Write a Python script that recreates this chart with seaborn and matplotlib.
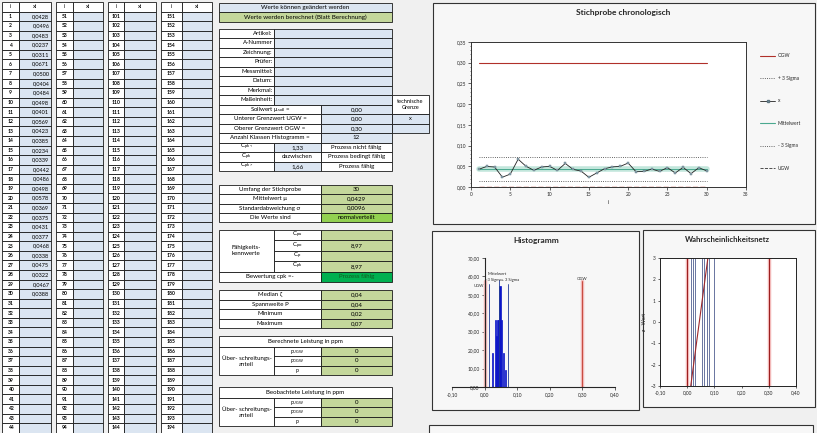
import numpy as np
import pandas as pd
import matplotlib
matplotlib.use("Agg")
import matplotlib.pyplot as plt
from matplotlib.patches import Rectangle
from matplotlib.lines import Line2D
from matplotlib.ticker import MultipleLocator
import seaborn as sns

# ---- data read from the sheet ----
xi = [0.0428, 0.0496, 0.0483, 0.0237, 0.0311, 0.0671, 0.0500, 0.0404, 0.0484, 0.0498,
      0.0401, 0.0569, 0.0423, 0.0385, 0.0234, 0.0339, 0.0442, 0.0486, 0.0498, 0.0578,
      0.0369, 0.0375, 0.0431, 0.0377, 0.0468, 0.0338, 0.0475, 0.0322, 0.0467, 0.0388]
i_idx = list(range(1, len(xi) + 1))

ugw = 0.00
ogw = 0.30
mittelwert = 0.0429
std_dev = 0.0096
minus_3s = 0.0141
plus_3s = 0.0717
n_classes = 12

chrono_yticks = [0.00, 0.05, 0.10, 0.15, 0.20, 0.25, 0.30, 0.35]
chrono_xticks = [0, 5, 10, 15, 20, 25, 30, 35]
hist_yticks = [0, 10, 20, 30, 40, 50, 60, 70]
x_ticks = [-0.10, 0.00, 0.10, 0.20, 0.30, 0.40]
z_ticks = [-3, -2, -1, 0, 1, 2, 3]

prob_blue_x = [0.0141, 0.0195, 0.0293, 0.0540, 0.0620, 0.0717, 0.0810, 0.0970]
prob_fit_x = [0.0130, 0.0760]
prob_fit_z = [-3, 3]

# ---- figure ----
sns.set_style("ticks")
plt.rcParams['font.family'] = ['Lato', 'DejaVu Sans']
plt.rcParams['mathtext.default'] = 'regular'

W, H = 817, 433
fig = plt.figure(figsize=(W / 100, H / 100), dpi=100, facecolor='#f0f0f0')

bg = fig.add_axes([0, 0, 1, 1])
bg.set_xlim(0, W)
bg.set_ylim(H, 0)
bg.axis('off')

BLUE = '#dbe5f1'
GREEN = '#c4d79b'


def de(v, d=2):
    return f"{v:.{d}f}".replace('.', ',')


def cell(x0, y0, x1, y1, fc='white', text='', ha='center', fs=4.4, bold=False, color='black', lw=0.6):
    bg.add_patch(Rectangle((x0, y0), x1 - x0, y1 - y0, facecolor=fc, edgecolor='#1a1a1a', lw=lw))
    if text:
        if ha == 'center':
            tx = (x0 + x1) / 2
        elif ha == 'right':
            tx = x1 - 1.5
        else:
            tx = x0 + 1.5
        bg.text(tx, (y0 + y1) / 2, text, ha=ha, va='center', fontsize=fs,
                fontweight='bold' if bold else 'normal', color=color)


def px_axes(x0, y0, x1, y1):
    return fig.add_axes([x0 / W, 1 - y1 / H, (x1 - x0) / W, (y1 - y0) / H])


# left value table
groups = [(2, 19, 51), (56, 73, 103), (108, 124, 156), (161, 182, 212)]
top, row_h = 2, 9.57
for g, (a, b, c) in enumerate(groups):
    cell(a, top, b, top + row_h, 'white', 'i', fs=4)
    cell(b, top, c, top + row_h, 'white', 'xi', fs=4)
    for r in range(1, 45):
        y0 = top + r * row_h
        n = g * 50 + r
        cell(a, y0, b, y0 + row_h, 'white', str(n), fs=3.6, bold=True)
        val = de(xi[n - 1], 4) if n <= len(xi) else ''
        cell(b, y0, c, y0 + row_h, BLUE, val, ha='right', fs=4.1)

# middle form
L, M1, M2, R = 219, 274, 321, 392
cell(L, 3, R, 12, BLUE, 'Werte können geändert werden', fs=4.5)
cell(L, 12, R, 21.5, GREEN, 'Werte werden berechnet (Blatt Berechnung)', fs=4.5)

ftop, fh = 28.5, 9.5
labels = ['Artikel:', 'A-Nummer', 'Zeichnung:', 'Prüfer:', 'Messmittel:', 'Datum:', 'Merkmal:', 'Maßeinheit:']
for k, lab in enumerate(labels):
    y0 = ftop + k * fh
    cell(L, y0, M1, y0 + fh, 'white', lab, ha='right')
    cell(M1, y0, R, y0 + fh, BLUE)
rows2 = [('Sollwert μ$_{soll}$ =', de(0.0)), ('Unterer Grenzwert UGW =', de(ugw)),
         ('Oberer Grenzwert OGW =', de(ogw)), ('Anzahl Klassen Histogramm =', str(n_classes))]
for k, (lab, val) in enumerate(rows2):
    y0 = ftop + (8 + k) * fh
    cell(L, y0, M2, y0 + fh, 'white', lab)
    cell(M2, y0, R, y0 + fh, BLUE, val)
cell(R, ftop + 7 * fh, 429, ftop + 9 * fh, 'white', 'technische\nGrenze', fs=4.1)
cell(R, ftop + 9 * fh, 429, ftop + 10 * fh, BLUE, 'x', fs=4.1)
cell(R, ftop + 10 * fh, 429, ftop + 11 * fh, BLUE)
rows3 = [('C$_{pk<}$', '1,33', BLUE, 'Prozess nicht fähig'),
         ('C$_{pk}$', 'dazwischen', 'white', 'Prozess bedingt fähig'),
         ('C$_{pk>}$', '1,66', BLUE, 'Prozess fähig')]
for k, (lab, v, fc, txt) in enumerate(rows3):
    y0 = ftop + (12 + k) * fh
    cell(L, y0, M1, y0 + fh, 'white', lab)
    cell(M1, y0, M2, y0 + fh, fc, v)
    cell(M2, y0, R, y0 + fh, 'white', txt)

# statistics block
stats = [('Umfang der Stichprobe', str(len(xi)), GREEN), ('Mittelwert μ', de(mittelwert, 4), GREEN),
         ('Standardabweichung σ', de(std_dev, 4), GREEN), ('Die Werte sind', 'normalverteilt', '#92d050')]
for k, (lab, val, fc) in enumerate(stats):
    y0 = 185 + k * 9.25
    cell(L, y0, M2, y0 + 9.25, 'white', lab)
    cell(M2, y0, R, y0 + 9.25, fc, val)

# capability block
cap = [('C$_{pu}$', ''), ('C$_{po}$', '8,97'), ('C$_{p}$', ''), ('C$_{pk}$', '8,97')]
ch = 10.4
cell(L, 230, M1, 230 + 4 * ch, 'white', 'Fähigkeits-\nkennwerte')
for k, (lab, val) in enumerate(cap):
    y0 = 230 + k * ch
    cell(M1, y0, M2, y0 + ch, 'white', lab)
    cell(M2, y0, R, y0 + ch, GREEN, val)
cell(L, 230 + 4 * ch, M2, 282, 'white', 'Bewertung cpk =-')
cell(M2, 230 + 4 * ch, R, 282, '#00b050', 'Prozess fähig', color='#145a20')

# median block
med = [('Median ζ', 0.04), ('Spannweite P', 0.04), ('Minimum', 0.02), ('Maximum', 0.07)]
for k, (lab, val) in enumerate(med):
    y0 = 290 + k * 9.5
    cell(L, y0, M2, y0 + 9.5, 'white', lab)
    cell(M2, y0, R, y0 + 9.5, GREEN, de(val))

# ppm blocks
for t0, title in [(336, 'Berechnete Leistung in ppm'), (387, 'Beobachtete Leistung in ppm')]:
    cell(L, t0, R, t0 + 11, 'white', title)
    rh = 9.33
    cell(L, t0 + 11, M1, t0 + 11 + 3 * rh, 'white', 'Über- schreitungs-\nanteil')
    for k, lab in enumerate(['p$_{UGW}$', 'p$_{OGW}$', 'p']):
        y0 = t0 + 11 + k * rh
        cell(M1, y0, M2, y0 + rh, 'white', lab, fs=3.8)
        cell(M2, y0, R, y0 + rh, GREEN, '0')

# chart frames
for (x0, y0, x1, y1) in [(433, 3, 815, 224), (432, 231, 639, 410), (643, 230, 815, 407), (429, 425, 813, 445)]:
    bg.add_patch(Rectangle((x0, y0), x1 - x0, y1 - y0, facecolor='#f7f7f7', edgecolor='#333333', lw=0.8))

bg.text(623, 13, 'Stichprobe chronologisch', ha='center', va='center', fontsize=6, fontweight='bold')
bg.text(536, 240, 'Histogramm', ha='center', va='center', fontsize=6, fontweight='bold')
bg.text(727, 240, 'Wahrscheinlichkeitsnetz', ha='center', va='center', fontsize=5.6, fontweight='bold')

tick_fs = 3.4

# ---- chart 1: Stichprobe chronologisch ----
ax1 = px_axes(471, 42, 746, 187)
ax1.set_facecolor('white')
xs = [i_idx[0], i_idx[-1]]
ax1.plot(xs, [ogw, ogw], color='#b0302a', lw=0.8)
ax1.plot(xs, [plus_3s, plus_3s], color='#333333', lw=0.6, ls=':')
ax1.plot(xs, [minus_3s, minus_3s], color='#333333', lw=0.6, ls=':')
ax1.plot(xs, [mittelwert, mittelwert], color='#a8dccd', lw=4, alpha=0.7)
ax1.plot(xs, [mittelwert, mittelwert], color='#4aa98f', lw=0.7)
ax1.plot(xs, [ugw, ugw], color='#c0392b', lw=1.0, ls='--')
sns.lineplot(x=i_idx, y=xi, ax=ax1, color='#222222', lw=0.6, marker='s', markersize=2,
             markerfacecolor='#8fa7b3', markeredgecolor='#5d7480', markeredgewidth=0.3)
ax1.set_xlim(0, 35)
ax1.set_ylim(0, 0.35)
ax1.set_xticks(chrono_xticks)
ax1.set_yticks(chrono_yticks)
ax1.set_yticklabels([de(v) for v in chrono_yticks])
ax1.yaxis.set_minor_locator(MultipleLocator(0.01))
ax1.tick_params(labelsize=tick_fs, length=2, width=0.5, pad=1.5)
ax1.tick_params(which='minor', length=1, width=0.4)
ax1.set_xlabel('i', fontsize=4, labelpad=2)
ax1.set_ylabel('')
for s in ax1.spines.values():
    s.set_linewidth(0.7)
    s.set_color('#333333')

handles = [Line2D([], [], color='#b0302a', lw=0.8),
           Line2D([], [], color='#333333', lw=0.6, ls=':'),
           Line2D([], [], color='#222222', lw=0.6, marker='s', markersize=2,
                  markerfacecolor='#8fa7b3', markeredgecolor='#5d7480'),
           Line2D([], [], color='#4aa98f', lw=0.8),
           Line2D([], [], color='#333333', lw=0.6, ls=':'),
           Line2D([], [], color='#333333', lw=0.6, ls='--')]
leg_labels = ['OGW', '+ 3 Sigma', 'x', 'Mittelwert', '- 3 Sigma', 'UGW']
fig.legend(handles, leg_labels, loc='upper left', bbox_to_anchor=(756 / W, 1 - 49 / H),
           frameon=False, fontsize=3.5, labelspacing=3.6, handlelength=3.0, handletextpad=0.6)

# ---- chart 2: Histogramm ----
ax2 = px_axes(452, 258, 615, 387)
ax2.patch.set_alpha(0)
sns.histplot(x=xi, bins=n_classes, stat='density', ax=ax2, color='#0a14c8',
             edgecolor='#0a14c8', linewidth=0.5, alpha=1)
for xv in [ugw, ogw]:
    ax2.plot([xv, xv], [0, 57.5], color='#f2b8b8', lw=2.5)
    ax2.plot([xv, xv], [0, 57.5], color='#c0392b', lw=0.6)
for xv, top_y in [(minus_3s, 56), (mittelwert, 58), (plus_3s, 56)]:
    ax2.plot([xv, xv], [0, top_y], color='#1f3a93', lw=0.6)
ax2.text(-0.001, 53.5, 'UGW', fontsize=3, ha='right', va='bottom')
ax2.text(mittelwert - 0.003, 60.5, 'Mittelwert', fontsize=3, ha='center', va='bottom')
ax2.text(0.003, 57, '-3 Sigma+ 3 Sigma', fontsize=3, ha='left', va='bottom')
ax2.text(ogw, 57.5, 'OGW', fontsize=3, ha='center', va='bottom')
ax2.set_xlim(-0.10, 0.40)
ax2.set_ylim(0, 70)
ax2.spines['left'].set_position(('data', 0))
ax2.spines['top'].set_visible(False)
ax2.spines['right'].set_visible(False)
ax2.set_xticks(x_ticks)
ax2.set_xticklabels([de(v) for v in x_ticks])
ax2.set_yticks(hist_yticks)
ax2.set_yticklabels([de(v) for v in hist_yticks])
ax2.tick_params(labelsize=tick_fs, length=2, width=0.5, pad=1.5)
ax2.set_xlabel('')
ax2.set_ylabel('')

# ---- chart 3: Wahrscheinlichkeitsnetz ----
ax3 = px_axes(660, 258, 796, 386)
ax3.set_facecolor('white')
for xv in prob_blue_x:
    ax3.axvline(xv, color='#2c3e7a', lw=0.5)
for xv in [ugw, ogw]:
    ax3.axvline(xv, color='#f2b8b8', lw=2.5)
    ax3.axvline(xv, color='#9b1c1c', lw=0.7)
sns.lineplot(x=prob_fit_x, y=prob_fit_z, ax=ax3, color='#a0282a', lw=0.8)
ax3.set_xlim(-0.10, 0.40)
ax3.set_ylim(-3, 3)
ax3.set_xticks(x_ticks)
ax3.set_xticklabels([de(v) for v in x_ticks])
ax3.set_yticks(z_ticks)
ax3.tick_params(labelsize=tick_fs, length=1.5, width=0.5, pad=1.5)
ax3.set_ylabel('z - Wert', fontsize=3.6, labelpad=2)
ax3.set_xlabel('')
for s in ax3.spines.values():
    s.set_linewidth(0.7)
    s.set_color('#222222')

fig.savefig('out.png', dpi=100, facecolor=fig.get_facecolor())
